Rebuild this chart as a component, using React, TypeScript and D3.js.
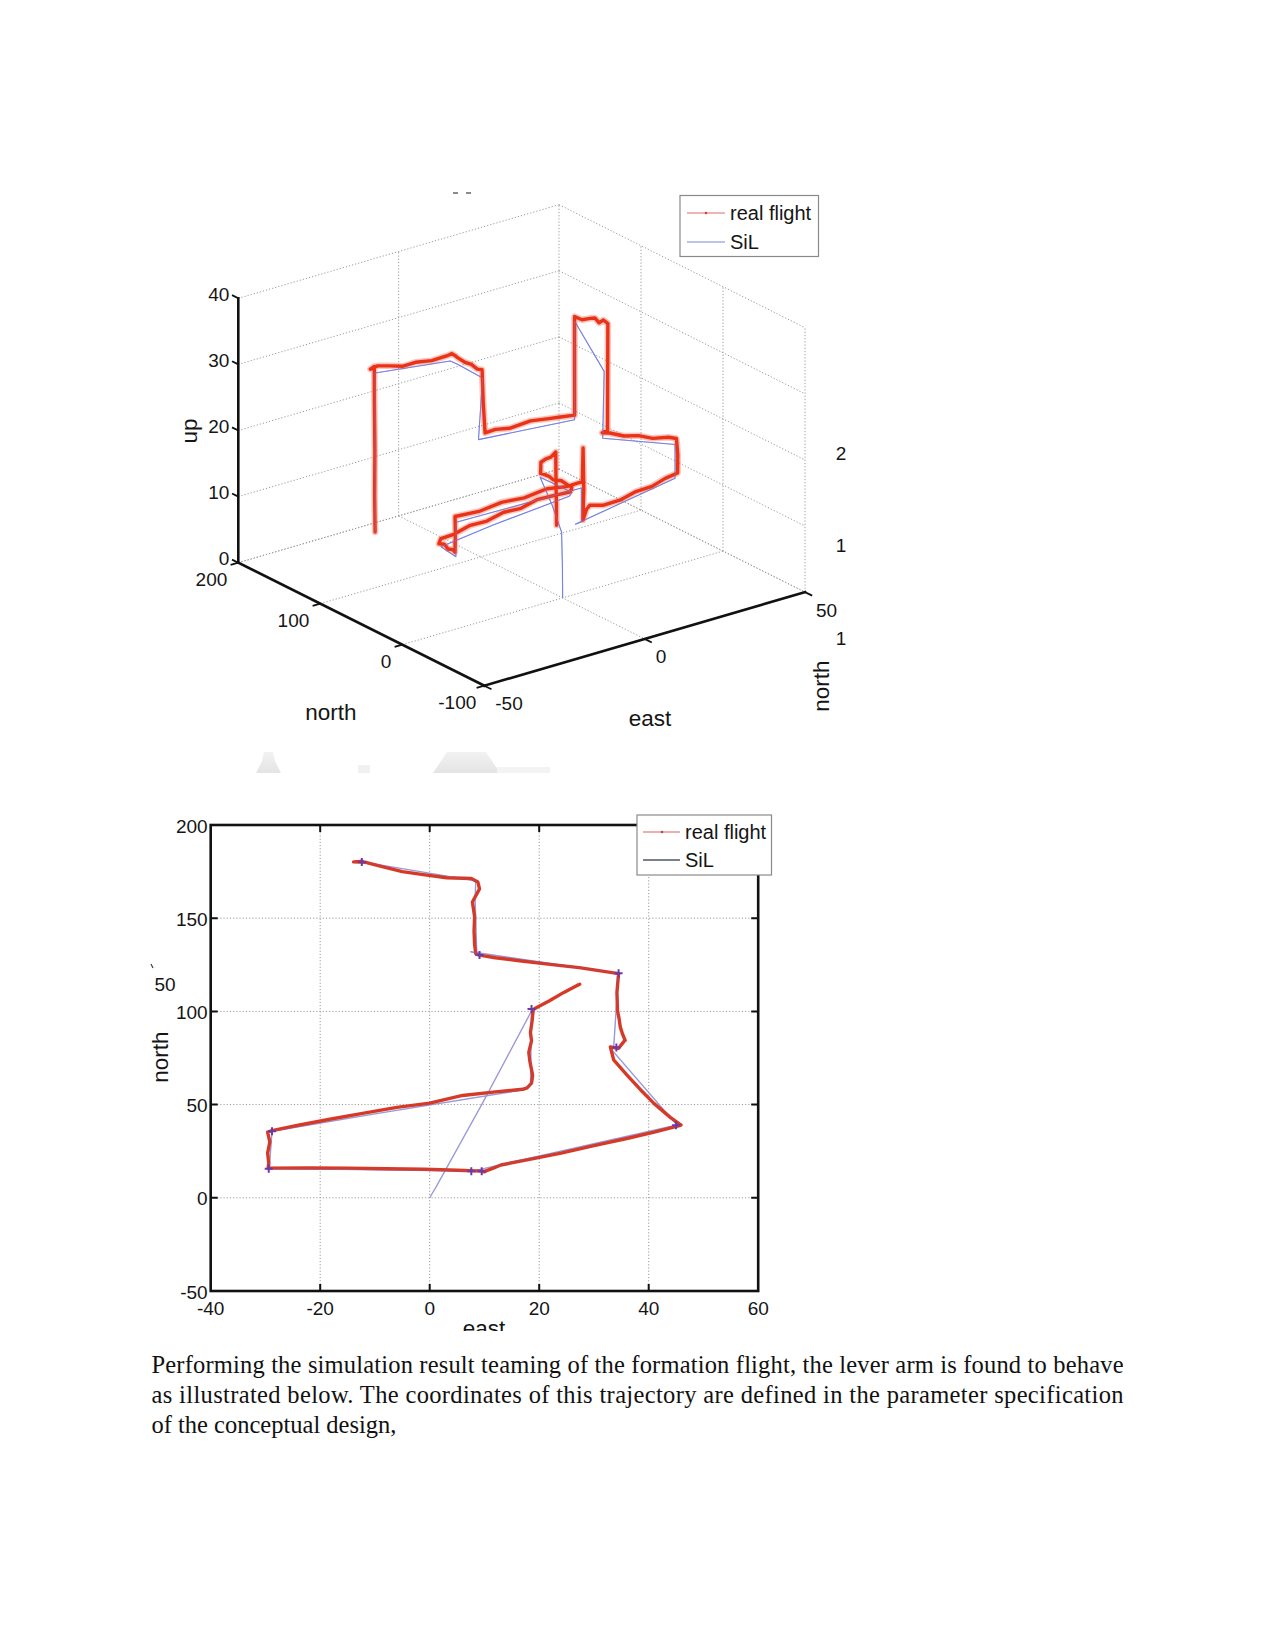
import React from 'react';
import * as d3 from 'd3';

// ---------- DATA ----------
// real flight trajectory (east, north, up)
const flightEast = [27.4, 27.3, 27.1, 27.0, 24.5, 21.8, 19.2, 18.9, 18.7, 18.4, 18.6, 18.1, 18.3, 18.8, 18.6, 17.8, 17.0,
  12.0, 6.0, 0.0, -6.0, -12.0, -18.0, -24.0, -28.8, -29.6, -29.2, -29.6, -29.4, -29.5, -29.4, -29.5,
  -22.0, -15.0, -8.0, -1.0, 5.0, 9.8, 10.0, 10.2, 9.9, 11.5, 13.0, 18.0, 24.0, 30.0, 36.0, 41.0, 45.8, 45.9, 45.6,
  44.0, 41.0, 38.5, 36.0, 33.6, 33.0, 34.5, 35.6, 35.7, 35.2, 34.8, 34.6, 34.3, 34.2, 34.5, 34.5, 34.5,
  30.0, 27.3, 22.0, 16.0, 12.0, 9.1, 8.6, 8.4, 8.2, 8.1, 8.2, 7.8, 9.1, 8.8, 7.6,
  3.1, -1.5, -5.0, -8.5, -11.7, -13.9, -12.6, -12.6, -12.4, -12.5, -12.3];
const flightNorth = [114.6, 114.4, 114.2, 114.0, 110.2, 105.6, 101.6, 100.8, 95.0, 88.5, 84.3, 78.0, 73.1, 65.7, 61.5, 59.0, 58.2,
  56.8, 54.9, 50.8, 48.5, 45.4, 42.3, 38.9, 36.0, 35.2, 30.0, 24.0, 18.5, 16.0, 15.8, 15.9,
  16.0, 15.9, 15.6, 15.3, 14.8, 14.3, 14.2, 14.1, 14.0, 15.8, 17.6, 20.5, 24.0, 28.0, 31.8, 35.2, 38.9, 39.1, 39.6,
  43.0, 50.5, 58.0, 66.0, 74.0, 80.9, 80.2, 84.3, 84.5, 88.0, 91.7, 96.0, 100.5, 110.2, 120.4, 120.4, 120.3,
  122.3, 123.5, 125.2, 127.3, 128.8, 130.2, 130.6, 131.1, 136.1, 143.0, 150.9, 158.7, 165.7, 169.4, 171.3,
  171.7, 173.5, 175.0, 177.5, 180.0, 180.2, 180.4, 180.3, 180.5, 180.4, 180.6];
const flightUp = [0.0, 3.5, 7.8, 11.2, 11.0, 11.4, 11.5, 9.9, 10.1, 10.3, 10.0, 10.4, 10.6, 10.2, 10.5, 10.2, 10.0,
  10.3, 10.6, 10.4, 10.8, 10.5, 10.9, 10.6, 10.8, 10.2, 10.4, 10.1, 10.3, 10.1, 12.8, 15.5,
  15.2, 15.6, 15.3, 15.7, 15.2, 15.3, 20.4, 14.0, 9.5, 10.8, 11.1, 10.2, 9.9, 10.1, 9.8, 10.1, 10.0, 12.8, 15.2,
  15.4, 15.2, 15.5, 15.3, 15.6, 15.3, 15.5, 23.0, 31.2, 31.6, 31.0, 31.5, 31.2, 30.4, 30.2, 22.0, 15.3,
  15.5, 15.6, 15.9, 15.5, 15.8, 15.6, 20.5, 25.2, 25.0, 25.3, 25.1, 25.4, 25.0, 25.2, 24.9,
  24.8, 25.1, 24.9, 25.3, 25.6, 25.4, 25.6, 20.0, 13.0, 6.0, 0.5];

// software-in-the-loop trajectory (east, north, up)
const silEast = [0.0, 0.3, 1.2, 9.5, 18.6, 18.5, 18.4, 16.8, -10.0, -28.8, -29.3, -29.2, 9.5, 9.6, 7.6, 45.0, 45.1, 33.0, 33.6, 34.5, 34.5, 7.5, 8.6, 8.3, 8.4, -12.4, -12.3];
const silNorth = [0.0, 1.5, 6.0, 50.0, 100.2, 80.0, 60.5, 57.8, 45.0, 35.7, 15.6, 15.7, 14.3, 14.2, 14.2, 38.9, 39.2, 80.2, 80.8, 120.3, 120.4, 132.0, 131.2, 160.0, 170.0, 180.2, 180.3];
const silUp = [0.0, 5.0, 9.4, 9.6, 9.4, 9.5, 9.6, 9.4, 9.7, 9.6, 9.4, 14.6, 14.4, 9.3, 9.2, 9.3, 14.4, 14.5, 24.5, 29.5, 14.6, 14.7, 23.9, 24.2, 24.1, 24.6, 0.4];

// waypoint markers seen in the top view
const markerEast = [18.6, -28.8, -29.4, 7.6, 9.5, 45.0, 34.1, 34.5, 9.1, -12.4];
const markerNorth = [101.3, 35.7, 15.6, 14.2, 14.2, 38.9, 80.6, 120.4, 130.2, 180.2];

// ticks
const eastTicks3D = [-50, 0, 50];
const northTicks3D = [200, 100, 0, -100];
const upTicks3D = [0, 10, 20, 30, 40];
const eastTicks2D = [-40, -20, 0, 20, 40, 60];
const northTicks2D = [-50, 0, 50, 100, 150, 200];
const legendLabels = ['real flight', 'SiL'];
const clippedRightLabels = ['2', '1', '1'];

const paragraphLines = [
  'Performing the simulation result teaming of the formation flight, the lever arm is found to behave',
  'as illustrated below. The coordinates of this trajectory are defined in the parameter specification',
  'of the conceptual design,',
];

const SANS = '"Liberation Sans", Arial, Helvetica, sans-serif';
const SERIF = '"Liberation Serif", "Times New Roman", serif';

export default function App() {
  // ---------- 3D projection ----------
  const O = { x: 238.3, y: 562.7 };
  const eX = d3.scaleLinear().domain([-50, 50]).range([0, 320.7]);
  const eY = d3.scaleLinear().domain([-50, 50]).range([0, -93.6]);
  const nX = d3.scaleLinear().domain([200, -100]).range([0, 246]);
  const nY = d3.scaleLinear().domain([200, -100]).range([0, 123]);
  const uY = d3.scaleLinear().domain([0, 40]).range([0, -264.4]);
  const P = (e: number, n: number, u: number): [number, number] => [
    O.x + eX(e) + nX(n),
    O.y + eY(e) + nY(n) + uY(u),
  ];
  const line = d3.line<[number, number]>();
  const seg = (a: [number, number], b: [number, number]) => line([a, b]) as string;

  const flight3D = line(flightEast.map((e, i) => P(e, flightNorth[i], flightUp[i]))) as string;
  const sil3D = line(silEast.map((e, i) => P(e, silNorth[i], silUp[i]))) as string;

  const grid3D: string[] = [];
  // back wall (north = 200)
  [0, 50].forEach((e) => grid3D.push(seg(P(e, 200, 0), P(e, 200, 40))));
  upTicks3D.forEach((u) => grid3D.push(seg(P(-50, 200, u), P(50, 200, u))));
  // right wall (east = 50)
  [100, 0, -100].forEach((n) => grid3D.push(seg(P(50, n, 0), P(50, n, 40))));
  upTicks3D.forEach((u) => grid3D.push(seg(P(50, 200, u), P(50, -100, u))));
  // floor
  [0, 50].forEach((e) => grid3D.push(seg(P(e, 200, 0), P(e, -100, 0))));
  [200, 100, 0].forEach((n) => grid3D.push(seg(P(-50, n, 0), P(50, n, 0))));

  const axes3D = [
    seg(P(-50, 200, 0), P(-50, 200, 40)),
    seg(P(-50, 200, 0), P(-50, -100, 0)),
    seg(P(-50, -100, 0), P(50, -100, 0)),
  ];
  const tl = 8;
  const ticks3D: string[] = [];
  upTicks3D.forEach((u) => { const p = P(-50, 200, u); ticks3D.push(seg(p, [p[0] - 0.894 * 7, p[1] - 0.447 * 7])); });
  northTicks3D.forEach((n) => { const p = P(-50, n, 0); ticks3D.push(seg(p, [p[0] - 0.96 * tl, p[1] + 0.28 * tl])); });
  eastTicks3D.forEach((e) => { const p = P(e, -100, 0); ticks3D.push(seg(p, [p[0] + 0.894 * tl, p[1] + 0.447 * tl])); });

  // ---------- 2D axes ----------
  const x2 = d3.scaleLinear().domain([-40, 60]).range([210.7, 758.2]);
  const y2 = d3.scaleLinear().domain([-50, 200]).range([1291, 825]);
  const flight2D = line(flightEast.map((e, i) => [x2(e), y2(flightNorth[i])] as [number, number])) as string;
  const sil2D = line(silEast.map((e, i) => [x2(e), y2(silNorth[i])] as [number, number])) as string;
  const [xl, xr] = x2.range();
  const [yb, yt] = y2.range();

  const gridColor = '#9a9a9a';
  const textColor = '#151515';

  return (
    <svg width={1275} height={1650} viewBox="0 0 1275 1650"
      style={{ position: 'absolute', left: 0, top: 0, background: '#fff' }}>
      <rect x={0} y={0} width={1275} height={1650} fill="#fff" />
      <defs>
        <clipPath id="clip2d"><rect x={130} y={760} width={680} height={571} /></clipPath>
        <linearGradient id="fade" x1="0" y1="0" x2="0" y2="1">
          <stop offset="0" stopColor="#f2f2f2" />
          <stop offset="1" stopColor="#e4e4e4" />
        </linearGradient>
      </defs>

      {/* ===== 3D figure ===== */}
      <g>
        <path d="M453,193 h5 M466,193 h5" stroke="#666" strokeWidth={1.4} />
        {grid3D.map((d, i) => (
          <path key={i} d={d} stroke={gridColor} strokeWidth={1} strokeDasharray="1.2,2" fill="none" />
        ))}
        <path d={sil3D} stroke="#6f7fe0" strokeWidth={1.1} fill="none" strokeLinejoin="round" />
        <path d={flight3D} stroke="#f25a3c" strokeOpacity={0.35} strokeWidth={6.5} fill="none" strokeLinejoin="round" strokeLinecap="round" />
        <path d={flight3D} stroke="#ea3219" strokeWidth={3.4} fill="none" strokeLinejoin="round" strokeLinecap="round" />
        <path d={sil3D} stroke="#7b88e8" strokeOpacity={0.45} strokeWidth={0.9} fill="none" strokeLinejoin="round" />
        {axes3D.map((d, i) => <path key={i} d={d} stroke="#111" strokeWidth={2.6} fill="none" strokeLinecap="square" />)}
        {ticks3D.map((d, i) => <path key={i} d={d} stroke="#111" strokeWidth={1.8} fill="none" />)}

        <g fontFamily={SANS} fontSize={19} fill={textColor}>
          {upTicks3D.map((u) => { const p = P(-50, 200, u); return (
            <text key={u} x={p[0] - 9} y={p[1] - 4} textAnchor="end" dominantBaseline="central">{u}</text>); })}
          {northTicks3D.map((n) => { const p = P(-50, n, 0); return (
            <text key={n} x={p[0] - (n === -100 ? 8 : 11)} y={p[1] + 17} textAnchor="end" dominantBaseline="central">{n}</text>); })}
          {eastTicks3D.map((e) => { const p = P(e, -100, 0); return (
            <text key={e} x={p[0] + 11} y={p[1] + 18} textAnchor="start" dominantBaseline="central">{e}</text>); })}
        </g>
        <g fontFamily={SANS} fontSize={22.5} fill={textColor}>
          <text x={331} y={712} textAnchor="middle" dominantBaseline="central">north</text>
          <text x={650} y={718} textAnchor="middle" dominantBaseline="central">east</text>
          <text x={189} y={431} textAnchor="middle" dominantBaseline="central" transform="rotate(-90,189,431)">up</text>
          {clippedRightLabels.map((t, i) => (
            <text key={i} x={841} y={[453, 545, 638][i]} textAnchor="middle" dominantBaseline="central" fontSize={19}>{t}</text>
          ))}
          <text x={821} y={686} textAnchor="middle" dominantBaseline="central" transform="rotate(-90,821,686)">north</text>
        </g>

        {/* legend 3D */}
        <rect x={680} y={195.5} width={138.5} height={61} fill="#fff" stroke="#8a8a8a" strokeWidth={1.2} />
        <path d="M687,213 H725" stroke="#e46a6a" strokeWidth={1.1} />
        <circle cx={706} cy={213} r={1.3} fill="#d94040" />
        <path d="M687,242 H725" stroke="#7a88d8" strokeWidth={1.1} />
        <g fontFamily={SANS} fontSize={20} fill={textColor}>
          <text x={730} y={213} dominantBaseline="central">{legendLabels[0]}</text>
          <text x={730} y={242} dominantBaseline="central">{legendLabels[1]}</text>
        </g>
      </g>

      {/* faint remnants between figures */}
      <g fill="url(#fade)">
        <path d="M256,773 L262,761 L264,752 L273,752 L275,761 L281,773 Z" />
        <rect x={358} y={765} width={12} height={8} fill="#f1f1f1" />
        <path d="M433,773 L447,752 L486,752 L500,773 Z" />
        <rect x={497} y={767} width={53} height={6} fill="#f3f3f3" />
      </g>

      {/* ===== 2D figure ===== */}
      <g clipPath="url(#clip2d)">
        {eastTicks2D.slice(1, -1).map((e) => (
          <path key={e} d={seg([x2(e), yb], [x2(e), yt])} stroke={gridColor} strokeWidth={1} strokeDasharray="1.2,2" />
        ))}
        {northTicks2D.slice(1, -1).map((n) => (
          <path key={n} d={seg([xl, y2(n)], [xr, y2(n)])} stroke={gridColor} strokeWidth={1} strokeDasharray="1.2,2" />
        ))}
        <path d={sil2D} stroke="#a4aae0" strokeWidth={1.4} fill="none" strokeLinejoin="round" />
        <path d={flight2D} stroke="#d63a26" strokeWidth={3.4} fill="none" strokeLinejoin="round" strokeLinecap="round" />
        <path d={sil2D} stroke="#7a5fc0" strokeOpacity={0.25} strokeWidth={1} fill="none" strokeLinejoin="round" />
        {markerEast.map((e, i) => {
          const cx = x2(e), cy = y2(markerNorth[i]);
          return <path key={i} d={`M${cx - 4},${cy}H${cx + 4}M${cx},${cy - 4}V${cy + 4}`} stroke="#6a3aa8" strokeWidth={2} />;
        })}
        <rect x={xl} y={yt} width={xr - xl} height={yb - yt} fill="none" stroke="#111" strokeWidth={2.6} />
        {eastTicks2D.slice(1, -1).map((e) => (
          <path key={e} d={`M${x2(e)},${yt}v7M${x2(e)},${yb}v-7`} stroke="#111" strokeWidth={2} />
        ))}
        {northTicks2D.slice(1, -1).map((n) => (
          <path key={n} d={`M${xl},${y2(n)}h7M${xr},${y2(n)}h-7`} stroke="#111" strokeWidth={2} />
        ))}
        <g fontFamily={SANS} fontSize={19} fill={textColor}>
          {eastTicks2D.map((e) => (
            <text key={e} x={x2(e)} y={yb + 17} textAnchor="middle" dominantBaseline="central">{e}</text>
          ))}
          {northTicks2D.map((n) => (
            <text key={n} x={xl - 3} y={y2(n) + 1} textAnchor="end" dominantBaseline="central">{n}</text>
          ))}
        </g>
        <g fontFamily={SANS} fontSize={22.5} fill={textColor}>
          <text x={484} y={1336} textAnchor="middle">east</text>
          <text x={160} y={1057} textAnchor="middle" dominantBaseline="central" transform="rotate(-90,160,1057)">north</text>
          <text x={165} y={984} textAnchor="middle" dominantBaseline="central" fontSize={19}>50</text>
        </g>
        <path d="M151,964 L153,968" stroke="#444" strokeWidth={1.3} />
        {/* legend 2D */}
        <rect x={637} y={815} width={134.5} height={60} fill="#fff" stroke="#8a8a8a" strokeWidth={1.2} />
        <path d="M643,832 H680" stroke="#d86060" strokeWidth={1.1} />
        <circle cx={662} cy={832} r={1.3} fill="#c84040" />
        <path d="M643,860 H680" stroke="#4f5468" strokeWidth={1.3} />
        <g fontFamily={SANS} fontSize={20} fill={textColor}>
          <text x={685} y={832} dominantBaseline="central">{legendLabels[0]}</text>
          <text x={685} y={860} dominantBaseline="central">{legendLabels[1]}</text>
        </g>
      </g>

      {/* ===== paragraph ===== */}
      <g fontFamily={SERIF} fontSize={24.5} fill="#111">
        {paragraphLines.map((t, i) => (
          <text key={i} x={151.5} y={[1372.5, 1403, 1433][i]}
            {...(i < 2 ? { textLength: 972, lengthAdjust: 'spacing' } : {})}>{t}</text>
        ))}
      </g>
    </svg>
  );
}
